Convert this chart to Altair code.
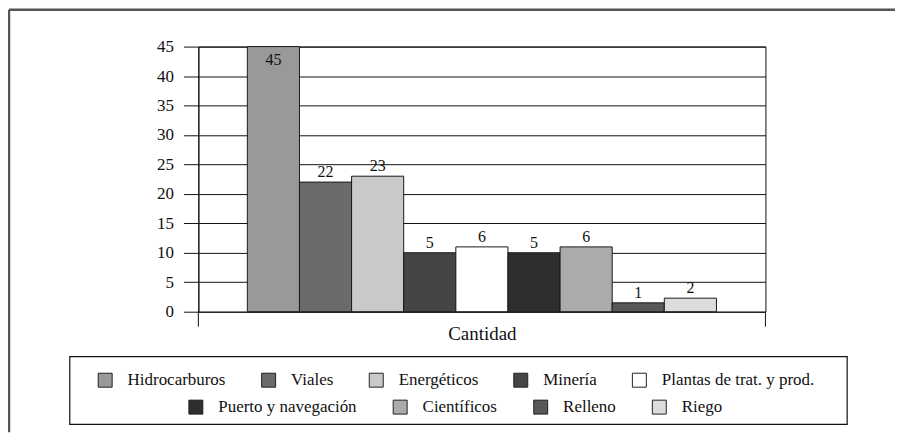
import altair as alt
import pandas as pd

categorias = ["Hidrocarburos", "Viales", "Energéticos", "Minería",
              "Plantas de trat. y prod.", "Puerto y navegación",
              "Científicos", "Relleno", "Riego"]
alturas = [45, 22, 23, 10, 11, 10, 11, 1.5, 2.3]
etiquetas = ["45", "22", "23", "5", "6", "5", "6", "1", "2"]
colores = ["#999999", "#6b6b6b", "#c9c9c9", "#454545", "#ffffff",
           "#2e2e2e", "#ababab", "#585858", "#dcdcdc"]
y_ticks = [0, 5, 10, 15, 20, 25, 30, 35, 40, 45]

FONT = "'Liberation Serif', 'DejaVu Serif', 'Times New Roman', serif"
W, H = 569, 266
PAD = {"left": 191, "top": 38, "right": 130, "bottom": 121}

df = pd.DataFrame({"categoria": categorias, "altura": alturas,
                   "etiqueta": etiquetas})
df1 = df.iloc[:5]
df2 = df.iloc[5:]

x_enc = alt.X("categoria:N", sort=categorias,
              scale=alt.Scale(domain=categorias, paddingInner=0, paddingOuter=0.94),
              axis=alt.Axis(title="Cantidad", labels=False, ticks=False, domain=False,
                            titleFont=FONT, titleFontSize=19, titleFontWeight="normal",
                            titleColor="#111", titlePadding=13))
y_axis = alt.Axis(values=y_ticks, title=None, tickSize=15, tickColor="#111",
                  tickWidth=1, domainColor="#111", domainWidth=1,
                  grid=True, gridColor="#111", gridWidth=1, gridOpacity=1,
                  labelFont=FONT, labelFontSize=17, labelColor="#111",
                  labelPadding=10, labelOverlap=False, tickCount=10)
y_scale = alt.Scale(domain=[0, 45], nice=False)


def Y():
    return alt.Y("altura:Q", scale=y_scale, axis=y_axis)


def X():
    return x_enc


def legend(x, y, colpad):
    return alt.Legend(title=None, orient="none", legendX=x, legendY=y,
                      direction="horizontal", symbolType="square", symbolSize=196,
                      symbolStrokeColor="#222", symbolStrokeWidth=1,
                      labelFont=FONT, labelFontSize=17, labelColor="#111",
                      labelOffset=14, columnPadding=colpad, labelLimit=400, padding=0)


bars1 = alt.Chart(df1).mark_bar(stroke="#1a1a1a", strokeWidth=1).encode(
    x=X(), y=Y(),
    fill=alt.Fill("categoria:N", sort=categorias[:5],
                  scale=alt.Scale(domain=categorias[:5], range=colores[:5]),
                  legend=legend(-102, 326, 33)))
bars2 = alt.Chart(df2).mark_bar(stroke="#1a1a1a", strokeWidth=1).encode(
    x=X(), y=Y(),
    fill=alt.Fill("categoria:N", sort=categorias[5:],
                  scale=alt.Scale(domain=categorias[5:], range=colores[5:]),
                  legend=legend(-11, 353, 34)))

txt_above = alt.Chart(df).transform_filter("datum.altura < 45").mark_text(
    font=FONT, fontSize=16, color="#111", baseline="bottom", dy=-2).encode(
    x=X(), y=Y(), text="etiqueta:N")
txt_inside = alt.Chart(df).transform_filter("datum.altura >= 45").mark_text(
    font=FONT, fontSize=16, color="#111", baseline="top", dy=5).encode(
    x=X(), y=Y(), text="etiqueta:N")

base = alt.Chart(pd.DataFrame({"k": [0]}))
cat_tick_l = base.mark_rule(color="#111", strokeWidth=1).encode(
    x=alt.value(0), y=alt.value(H), y2=alt.value(H + 15))
cat_tick_r = base.mark_rule(color="#111", strokeWidth=1).encode(
    x=alt.value(W), y=alt.value(H), y2=alt.value(H + 15))
legend_box = base.mark_rect(fill="transparent", stroke="#111", strokeWidth=1.2).encode(
    x=alt.value(-129), x2=alt.value(651), y=alt.value(311), y2=alt.value(379))
frame_top = base.mark_rule(color="#555", strokeWidth=2.5).encode(
    x=alt.value(-190), x2=alt.value(W + PAD["right"]), y=alt.value(-37))
frame_left = base.mark_rule(color="#555", strokeWidth=2.5).encode(
    x=alt.value(-190), y=alt.value(-37), y2=alt.value(H + PAD["bottom"]))

chart = alt.layer(
    bars1, bars2, txt_above, txt_inside, cat_tick_l, cat_tick_r,
    legend_box, frame_top, frame_left
).resolve_scale(fill="independent").properties(
    width=W, height=H, padding=PAD,
    autosize=alt.AutoSizeParams(type="none"),
    background="white"
).configure_view(stroke="#111", strokeWidth=1).configure_legend(
    labelFont=FONT, labelFontSize=17, labelColor="#111", labelOffset=14,
    symbolType="square", symbolSize=196,
    symbolStrokeColor="#222", symbolStrokeWidth=1, padding=0, labelLimit=400
).configure_axis(labelFont=FONT, titleFont=FONT).configure_text(font=FONT)

chart.save("out.html", embed_options={"renderer": "svg", "actions": False})
